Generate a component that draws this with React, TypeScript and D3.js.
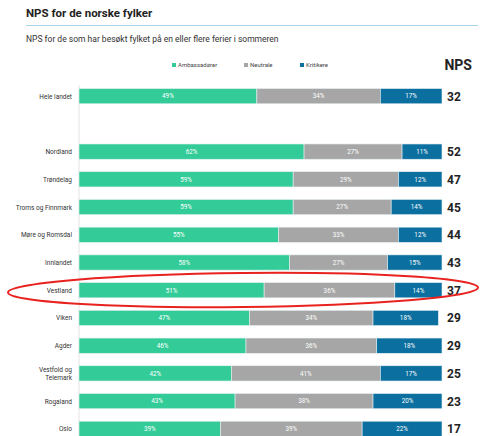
import React from 'react';
import * as d3 from 'd3';

const regions = ['Hele landet', '', 'Nordland', 'Trøndelag', 'Troms og Finnmark', 'Møre og Romsdal', 'Innlandet', 'Vestland', 'Viken', 'Agder', 'Vestfold og\nTelemark', 'Rogaland', 'Oslo'];
const ambassadorer = [49, null, 62, 59, 59, 55, 58, 51, 47, 46, 42, 43, 39];
const neutrale = [34, null, 27, 29, 27, 33, 27, 36, 34, 36, 41, 38, 39];
const kritikere = [17, null, 11, 12, 14, 12, 15, 14, 18, 18, 17, 20, 22];
const nps = [32, null, 52, 47, 45, 44, 43, 37, 29, 29, 25, 23, 17];

const seriesNames = ['Ambassadører', 'Neutrale', 'Kritikere'];
const colors = ['#33cc99', '#a6a6a6', '#0b6fa0'];

const W = 490;
const H = 436;
const font = 'Roboto, "Liberation Sans", Arial, sans-serif';

export default function App() {
  const x = d3.scaleLinear().domain([0, 100]).range([79, 442]);
  const y = d3.scaleBand().domain(regions.map((r, i) => String(i))).range([83, 442]).paddingInner(0.45).paddingOuter(0.2);

  const rows = regions.map((name, i) => ({ name, i, vals: [ambassadorer[i], neutrale[i], kritikere[i]] }));

  return (
    <svg width={W} height={H} style={{ position: 'absolute', left: 0, top: 0, fontFamily: font }}>
      <rect width={W} height={H} fill="#fff" />
      <text x={26} y={17} fontSize={11.5} fontWeight="bold" fill="#222">NPS for de norske fylker</text>
      <line x1={26} x2={478} y1={25.5} y2={25.5} stroke="#a9d3e6" strokeWidth={1} />
      <text x={26} y={42} fontSize={8.5} fill="#333">NPS for de som har besøkt fylket på en eller flere ferier i sommeren</text>

      {/* legend */}
      {seriesNames.map((s, k) => {
        const lx = [172, 244, 300][k];
        return (
          <g key={s}>
            <rect x={lx} y={63} width={4} height={4} fill={colors[k]} />
            <text x={lx + 6} y={67} fontSize={6} fill="#444">{s}</text>
          </g>
        );
      })}
      <text x={472} y={70} fontSize={14} fontWeight="bold" textAnchor="end" fill="#222">NPS</text>

      <line x1={79} x2={79} y1={85} y2={436} stroke="#e3e3e3" strokeWidth={1} />

      {rows.map(r => {
        if (r.vals[0] == null) return null;
        const yy = y(String(r.i))!;
        const bh = y.bandwidth();
        let acc = 0;
        const lines = r.name.split('\n');
        return (
          <g key={r.i}>
            {r.vals.map((v, k) => {
              const x0 = x(acc);
              acc += v as number;
              const x1 = x(Math.min(acc, 100));
              return (
                <g key={k}>
                  <rect x={x0} y={yy} width={Math.max(0, x1 - x0)} height={bh} fill={colors[k]} stroke="#e6f0f3" strokeWidth={0.6} />
                  <text x={(x0 + x1) / 2} y={yy + bh / 2 + 2.3} fontSize={6.3} fill="#fff" textAnchor="middle">{v}%</text>
                </g>
              );
            })}
            {lines.map((l, j) => (
              <text key={j} x={72} y={yy + bh / 2 + 2.5 + (j - (lines.length - 1) / 2) * 8} fontSize={6.5} fill="#333" textAnchor="end">{l}</text>
            ))}
            <text x={447} y={yy + bh / 2 + 4.5} fontSize={12} fontWeight="bold" fill="#222">{nps[r.i]}</text>
          </g>
        );
      })}

      {/* annotation */}
      <ellipse cx={243} cy={290} rx={235} ry={17} fill="none" stroke="#e8231f" strokeWidth={2} transform="rotate(-0.6 243 290)" />
    </svg>
  );
}
